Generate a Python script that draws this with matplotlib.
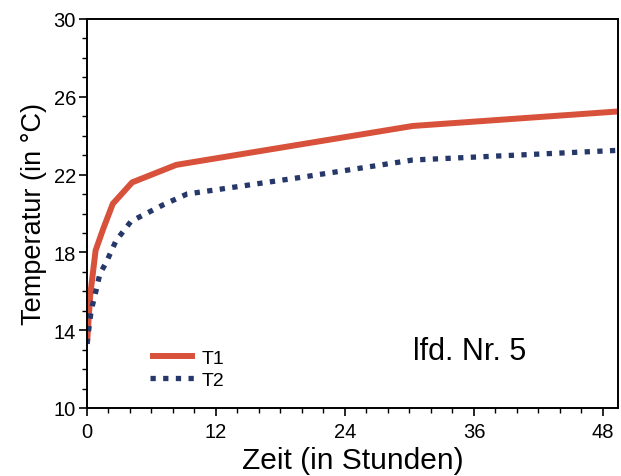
import matplotlib
matplotlib.use("Agg")
import matplotlib.pyplot as plt
from matplotlib.ticker import MultipleLocator

plt.rcParams["font.family"] = ["Liberation Sans", "DejaVu Sans"]

# Zeit in Stunden / Temperatur in °C
t1_hours = [0, 0.3, 0.8, 1.5, 2.4, 4.2, 8.3, 30.3, 49.5]
t1_temp = [13.3, 15.8, 18.1, 19.2, 20.5, 21.6, 22.5, 24.5, 25.25]

t2_hours = [0, 0.2, 0.4, 0.7, 1.2, 1.8, 2.7, 4.1, 7.1, 9.3, 19.8, 30.3, 49.5]
t2_temp = [13.3, 14.2, 15.05, 15.7, 16.9, 17.5, 18.6, 19.6, 20.45, 21.0, 21.85, 22.75, 23.25]

x_ticks = [0, 12, 24, 36, 48]
y_ticks = [10, 14, 18, 22, 26, 30]

red = "#d8523b"
navy = "#26386a"

fig = plt.figure(figsize=(6.21, 4.77), dpi=100)
ax = fig.add_axes([87 / 621, 1 - 409 / 477, 531 / 621, 389 / 477])

ax.plot(t1_hours, t1_temp, color=red, lw=4.3, solid_capstyle="butt",
        solid_joinstyle="round", label="T1")
ax.plot(t2_hours, t2_temp, color=navy, lw=3.8, linestyle=(0, (1, 1.4)),
        dash_capstyle="butt", label="T2")

ax.set_xlim(0, 49.4)
ax.set_ylim(10, 30)
ax.set_xticks(x_ticks)
ax.set_yticks(y_ticks)
ax.xaxis.set_minor_locator(MultipleLocator(2))
ax.yaxis.set_minor_locator(MultipleLocator(1))
ax.tick_params(which="major", length=6, width=1.2, labelsize=14.5, pad=2)
ax.tick_params(axis="x", which="major", pad=4)
ax.tick_params(which="minor", length=3.5, width=1.0)
for s in ax.spines.values():
    s.set_linewidth(1.4)

ax.set_xlabel("Zeit (in Stunden)", fontsize=21.5, labelpad=4)
ax.set_ylabel("Temperatur (in °C)", fontsize=19.5, labelpad=5)

ax.legend(loc="center left", bbox_to_anchor=(0.1, 0.1), frameon=False,
          fontsize=14, handlelength=2.3, handletextpad=0.35,
          borderpad=0, labelspacing=0.25)

ax.text(0.614, 0.147, "lfd. Nr. 5", transform=ax.transAxes, fontsize=22,
        ha="left", va="center")

fig.savefig("out.png", dpi=100)
